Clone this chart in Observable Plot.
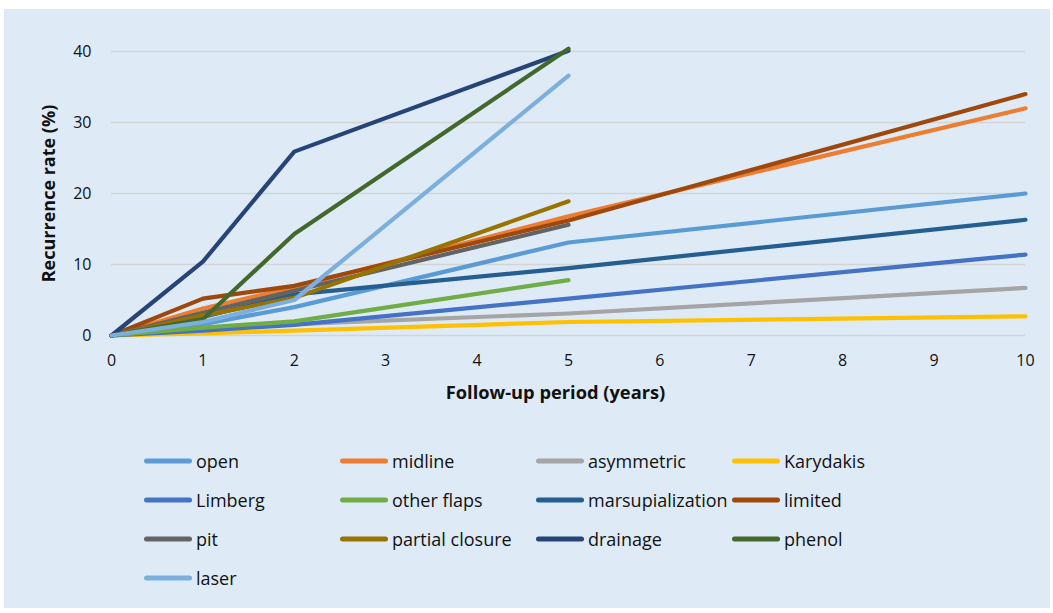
<!DOCTYPE html>
<html><head><meta charset="utf-8">
<script src="https://cdn.jsdelivr.net/npm/d3@7"></script>
<script src="https://cdn.jsdelivr.net/npm/@observablehq/plot@0.6"></script>
<style>
body{margin:0;background:#fff;font-family:"Open Sans",sans-serif;}
#wrap{position:absolute;left:4px;top:9px;width:1046px;height:599px;background:#DEEBF7;overflow:hidden;}
#legend{display:grid;grid-template-columns:repeat(4,196px);margin-left:140px;margin-top:22px;}
.item{height:39px;display:flex;align-items:center;font-size:18px;color:#111;white-space:nowrap;}
.item svg{margin-right:4px;flex:none;}
</style></head><body><div id="wrap"><div id="chart"></div><div id="legend"></div></div>
<script>
const years = [0, 1, 2, 5, 10];
const xTicks = [0,1,2,3,4,5,6,7,8,9,10];
const yTicks = [0,10,20,30,40];
const xTitle = "Follow-up period (years)";
const yTitle = "Recurrence rate (%)";
const seriesNames = ["open","midline","asymmetric","Karydakis","Limberg","other flaps","marsupialization","limited","pit","partial closure","drainage","phenol","laser"];
const seriesColors = ["#5B9BD5","#ED7D31","#A5A5A5","#FFC000","#4472C4","#70AD47","#255E91","#9E480E","#636363","#997300","#264478","#43682B","#7CAFDD"];
const open = [0, 1.6, 4.0, 13.1, 20.0];
const midline = [0, 3.8, 6.8, 16.8, 32.0];
const asymmetric = [0, 0.8, 1.6, 3.1, 6.7];
const karydakis = [0, 0.3, 0.7, 1.9, 2.7];
const limberg = [0, 0.7, 1.5, 5.2, 11.4];
const otherFlaps = [0, 1.1, 2.0, 7.8];
const marsupialization = [0, 2.6, 5.8, 9.5, 16.3];
const limited = [0, 5.2, 7.0, 16.2, 34.0];
const pit = [0, 3.2, 6.3, 15.6];
const partialClosure = [0, 2.8, 5.3, 18.9];
const drainage = [0, 10.4, 25.9, 40.1];
const phenol = [0, 2.3, 14.3, 40.4];
const laser = [0, 1.9, 5.0, 36.6];
const values = [open, midline, asymmetric, karydakis, limberg, otherFlaps, marsupialization, limited, pit, partialClosure, drainage, phenol, laser];

const rows = [];
seriesNames.forEach((name, i) => values[i].forEach((v, j) => rows.push({series: name, year: years[j], rate: v})));

const plot = Plot.plot({
  width: 1046, height: 410,
  marginLeft: 107, marginRight: 25, marginTop: 42, marginBottom: 84,
  style: {background: "transparent", fontFamily: "'Open Sans', sans-serif", fontSize: "16px", color: "#111", overflow: "visible"},
  x: {domain: [0, 10]},
  y: {domain: [0, 40]},
  color: {domain: seriesNames, range: seriesColors},
  marks: [
    Plot.gridY(yTicks, {stroke: "#D4D4D4", strokeOpacity: 1, strokeWidth: 1.5}),
    Plot.axisX(xTicks, {tickSize: 0, tickPadding: 19, label: null, fontSize: 16, tickFormat: d => String(d)}),
    Plot.axisY(yTicks, {tickSize: 0, tickPadding: 20, label: null, fontSize: 16}),
    Plot.line(rows, {x: "year", y: "rate", z: "series", stroke: "series", strokeWidth: 4.2, strokeLinecap: "round", strokeLinejoin: "round"}),
    Plot.text([xTitle], {frameAnchor: "bottom", dy: 63, dx: -13, fontWeight: "bold", fontSize: 18.3}),
    Plot.text([yTitle], {frameAnchor: "left", dx: -62, rotate: -90, textAnchor: "middle", fontWeight: "bold", fontSize: 18})
  ]
});
document.getElementById("chart").appendChild(plot);

const legend = document.getElementById("legend");
seriesNames.forEach((name, i) => {
  const d = document.createElement("div");
  d.className = "item";
  d.innerHTML = `<svg width="48" height="8"><line x1="2.5" y1="4" x2="45.5" y2="4" stroke="${seriesColors[i]}" stroke-width="5" stroke-linecap="round"/></svg><span>${name}</span>`;
  legend.appendChild(d);
});
</script></body></html>
